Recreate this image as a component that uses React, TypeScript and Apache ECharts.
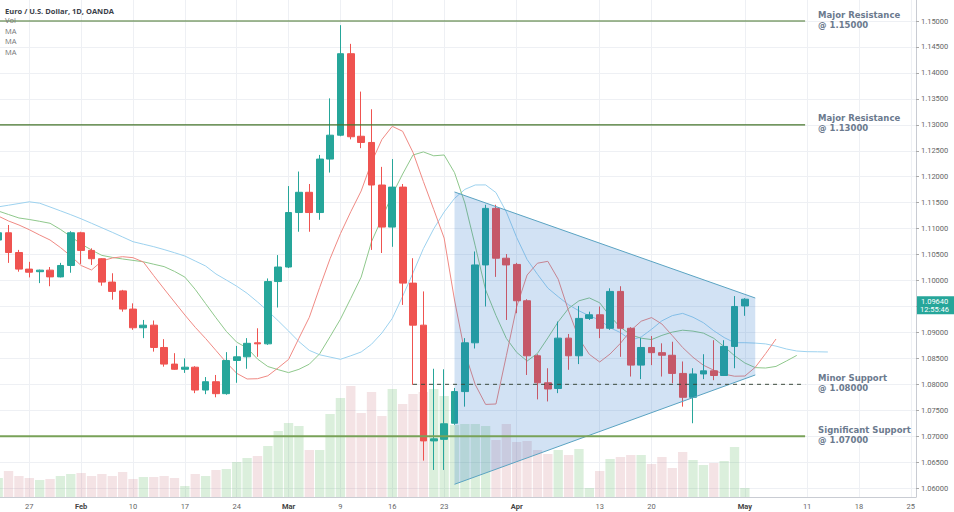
import React, { useEffect, useRef } from "react";
import * as echarts from "echarts";

// ---------- DATA ----------
const dates: string[] = [
  "2020-01-22","2020-01-23","2020-01-24","2020-01-27","2020-01-28","2020-01-29","2020-01-30","2020-01-31",
  "2020-02-03","2020-02-04","2020-02-05","2020-02-06","2020-02-07","2020-02-10","2020-02-11","2020-02-12","2020-02-13","2020-02-14",
  "2020-02-17","2020-02-18","2020-02-19","2020-02-20","2020-02-21","2020-02-24","2020-02-25","2020-02-26","2020-02-27","2020-02-28",
  "2020-03-02","2020-03-03","2020-03-04","2020-03-05","2020-03-06","2020-03-09","2020-03-10","2020-03-11","2020-03-12","2020-03-13",
  "2020-03-16","2020-03-17","2020-03-18","2020-03-19","2020-03-20","2020-03-23","2020-03-24","2020-03-25","2020-03-26","2020-03-27",
  "2020-03-30","2020-03-31","2020-04-01","2020-04-02","2020-04-03","2020-04-06","2020-04-07","2020-04-08","2020-04-09","2020-04-10",
  "2020-04-13","2020-04-14","2020-04-15","2020-04-16","2020-04-17","2020-04-20","2020-04-21","2020-04-22","2020-04-23","2020-04-24",
  "2020-04-27","2020-04-28","2020-04-29","2020-04-30","2020-05-01","2020-05-04","2020-05-05","2020-05-06","2020-05-07","2020-05-08",
  "2020-05-11","2020-05-12","2020-05-13","2020-05-14","2020-05-15","2020-05-18","2020-05-19","2020-05-20","2020-05-21","2020-05-22",
  "2020-05-25",
];

// [open, close, low, high]
const candles: number[][] = [
  [1.1078,1.1092,1.1070,1.1101],[1.1092,1.1054,1.1034,1.1107],[1.1054,1.1022,1.1017,1.1059],[1.1022,1.1016,1.1006,1.1036],
  [1.1017,1.1020,1.0995,1.1021],[1.1020,1.1007,1.0989,1.1026],[1.1007,1.1029,1.1006,1.1034],[1.1029,1.1092,1.1015,1.1095],
  [1.1092,1.1058,1.1032,1.1094],[1.1058,1.1042,1.1030,1.1062],[1.1042,1.0997,1.0990,1.1043],[1.0997,1.0979,1.0963,1.1014],
  [1.0980,1.0945,1.0940,1.0982],[1.0945,1.0909,1.0905,1.0956],[1.0909,1.0914,1.0889,1.0924],[1.0914,1.0871,1.0863,1.0923],
  [1.0871,1.0839,1.0834,1.0887],[1.0839,1.0829,1.0828,1.0860],[1.0829,1.0833,1.0822,1.0850],[1.0833,1.0789,1.0783,1.0835],
  [1.0789,1.0805,1.0781,1.0814],[1.0805,1.0782,1.0775,1.0818],[1.0782,1.0846,1.0780,1.0862],[1.0846,1.0853,1.0803,1.0874],
  [1.0853,1.0879,1.0830,1.0889],[1.0880,1.0878,1.0853,1.0908],[1.0878,1.0998,1.0876,1.1004],[1.0998,1.1026,1.0948,1.1049],
  [1.1026,1.1131,1.1024,1.1182],[1.1131,1.1170,1.1094,1.1210],[1.1170,1.1131,1.1094,1.1186],[1.1131,1.1234,1.1117,1.1242],
  [1.1234,1.1280,1.1208,1.1351],[1.1280,1.1437,1.1278,1.1492],[1.1437,1.1277,1.1272,1.1456],[1.1278,1.1266,1.1255,1.1364],
  [1.1266,1.1184,1.1059,1.1330],[1.1184,1.1103,1.1053,1.1219],[1.1103,1.1180,1.1065,1.1234],[1.1180,1.0995,1.0953,1.1186],
  [1.0995,1.0914,1.0799,1.1043],[1.0914,1.0691,1.0653,1.0979],[1.0691,1.0695,1.0635,1.0830],[1.0694,1.0724,1.0635,1.0829],
  [1.0725,1.0786,1.0722,1.0793],[1.0786,1.0880,1.0757,1.0889],[1.0880,1.1030,1.0869,1.1056],[1.1030,1.1139,1.0950,1.1146],
  [1.1139,1.1043,1.1007,1.1146],[1.1043,1.1030,1.0924,1.1051],[1.1031,1.0961,1.0937,1.1034],[1.0961,1.0855,1.0818,1.0964],
  [1.0855,1.0803,1.0771,1.0858],[1.0803,1.0791,1.0767,1.0831],[1.0792,1.0889,1.0783,1.0921],[1.0889,1.0855,1.0828,1.0897],
  [1.0855,1.0927,1.0839,1.0951],[1.0927,1.0934,1.0924,1.0940],[1.0934,1.0908,1.0889,1.0950],[1.0908,1.0979,1.0905,1.0985],
  [1.0979,1.0908,1.0853,1.0989],[1.0908,1.0837,1.0815,1.0910],[1.0837,1.0871,1.0810,1.0889],[1.0871,1.0861,1.0837,1.0893],
  [1.0861,1.0856,1.0815,1.0879],[1.0856,1.0821,1.0802,1.0882],[1.0821,1.0775,1.0757,1.0844],[1.0775,1.0820,1.0725,1.0831],
  [1.0820,1.0826,1.0810,1.0858],[1.0826,1.0817,1.0808,1.0885],[1.0817,1.0873,1.0816,1.0885],[1.0873,1.0950,1.0831,1.0970],
  [1.0951,1.0964,1.0932,1.0966],
];

const volumes: number[] = [
  19,26,21,19,17,18,21,23,
  24,21,23,21,25, 18,20,20,21,19, 11,23,21,27,28, 35,39,41,51,66,
  74,71,47,47,83, 99,111,84,105,81, 108,93,103,105,108, 101,72,73,73,71, 57,73,
  55,56,47, 43,47,42,48,9, 26,38,40,42,42, 33,40,29,45,37, 32,34,36,50,
  9,
];

const maRed: number[] = [
  1.11243,1.11147,1.11070,1.10979,1.10877,1.10781,1.10636,1.10472,1.10289,1.10203,
  1.10376,1.10434,1.10459,1.10440,1.10357,1.10093,1.09837,1.09586,1.09336,1.09099,
  1.08883,1.08652,1.08420,1.08212,1.08103,1.08108,1.08164,1.08318,1.08480,1.08889,
  1.09291,1.09866,1.10420,1.10902,1.11326,1.11725,1.12278,1.12717,1.12971,1.12875,
  1.12467,1.11908,1.11368,1.10819,1.09625,1.08609,1.07995,1.07613,1.07621,1.08551,
  1.09498,1.10106,1.10334,1.10370,1.10025,1.09413,1.08883,1.08578,1.08430,1.08584,
  1.08790,1.09037,1.09216,1.09286,1.09162,1.08939,1.08709,1.08521,1.08368,1.08272,
  1.08197,1.08156,1.08160,1.08328,1.08592,1.08873,
];

const maGreen: number[] = [
  1.11340,1.11272,1.11205,1.11176,1.11141,1.11103,1.10985,1.10848,1.10704,1.10588,
  1.10484,1.10446,1.10415,1.10388,1.10361,1.10314,1.10268,1.10176,1.10066,1.09829,
  1.09555,1.09282,1.09020,1.08812,1.08700,1.08488,1.08343,1.08282,1.08226,1.08289,
  1.08388,1.08588,1.08918,1.09255,1.09656,1.10066,1.10750,1.11197,1.11656,1.12052,
  1.12419,1.12478,1.12403,1.12419,1.12079,1.11492,1.10667,1.09819,1.09326,1.08885,
  1.08615,1.08449,1.08596,1.08894,1.09205,1.09463,1.09609,1.09665,1.09571,1.09311,
  1.09101,1.08952,1.08889,1.08862,1.08943,1.09006,1.09043,1.09025,1.08987,1.08887,
  1.08727,1.08551,1.08411,1.08322,1.08314,1.08345,1.08449,1.08557,
];

const maBlue: number[] = [
  1.11419,1.11451,1.11484,1.11517,1.11490,1.11417,1.11343,1.11268,1.11189,1.11103,
  1.11016,1.10929,1.10839,1.10748,1.10700,1.10652,1.10596,1.10536,1.10472,1.10376,
  1.10280,1.10126,1.10010,1.09891,1.09754,1.09588,1.09413,1.09224,1.09027,1.08823,
  1.08654,1.08569,1.08525,1.08482,1.08550,1.08623,1.08773,1.08989,1.09270,1.09696,
  1.10147,1.10615,1.10997,1.11320,1.11582,1.11756,1.11841,1.11842,1.11694,1.11320,
  1.10827,1.10405,1.10120,1.09854,1.09688,1.09532,1.09417,1.09320,1.09239,1.09091,
  1.08997,1.08854,1.08912,1.09060,1.09224,1.09324,1.09367,1.09293,1.09187,1.09033,
  1.08902,1.08802,1.08802,1.08794,1.08779,1.08736,1.08681,1.08642,1.08629,1.08627,1.08623,
];

const priceTicks: number[] = [
  1.06,1.065,1.07,1.075,1.08,1.085,1.09,1.095,1.10,1.105,1.11,1.115,1.12,1.125,1.13,1.135,1.14,1.145,1.15,
];
const priceLabelTicks: number[] = priceTicks.filter((v) => Math.abs(v - 1.095) > 1e-9);
const priceMin = 1.05829;
const priceMax = 1.15405;

const xLabels: Record<string, string> = {
  "2020-01-27": "27", "2020-02-03": "Feb", "2020-02-10": "10", "2020-02-17": "17", "2020-02-24": "24",
  "2020-03-02": "Mar", "2020-03-09": "9", "2020-03-16": "16", "2020-03-23": "23", "2020-04-01": "Apr",
  "2020-04-13": "13", "2020-04-20": "20", "2020-05-01": "May", "2020-05-11": "11", "2020-05-18": "18",
  "2020-05-25": "25",
};
const monthNames = ["Feb", "Mar", "Apr", "May"];

const levelPrices: number[] = [1.15, 1.13, 1.08, 1.07];
const levelNames: string[] = ["Major Resistance", "Major Resistance", "Minor Support", "Significant Support"];
const levelKinds: string[] = ["major", "major", "minor", "significant"];
const dashedStart = "2020-03-18";
const levelEnd = "2020-05-11";

const triDates: string[] = ["2020-03-24", "2020-05-04"];
const triUpper: number[] = [1.11706, 1.09663];
const triLower: number[] = [1.06074, 1.0818];

const lastTime = "12:55:46";
const legendTitle = "Euro / U.S. Dollar, 1D, OANDA";
const legendRows = ["Vol", "MA", "MA", "MA"];

// ---------- STYLE ----------
const UP = "#26a69a";
const DOWN = "#ef5350";
const VOL_UP = "rgba(76,175,80,0.2)";
const VOL_DOWN = "rgba(190,90,100,0.17)";
const GRID_C = "#eef0f4";
const AXIS_FONT = "Roboto, sans-serif";

const pad = (arr: number[]) => dates.map((_, k) => (k < arr.length ? arr[k] : null));

function buildOption(): any {
  const volData = volumes.map((v, k) => ({
    value: v,
    itemStyle: { color: candles[k][1] >= candles[k][0] ? VOL_UP : VOL_DOWN },
  }));

  const levelStyle: Record<string, any> = {
    major: { stroke: "#44752a", lineWidth: 1.2 },
    minor: { stroke: "#3c4a3c", lineWidth: 1, lineDash: [4, 4] },
    significant: { stroke: "#78a258", lineWidth: 2 },
  };

  return {
    animation: false,
    backgroundColor: "#ffffff",
    textStyle: { fontFamily: AXIS_FONT },
    grid: { left: -7, right: 38, top: 0, bottom: 15, containLabel: false, outerBoundsMode: "none" },
    xAxis: {
      type: "category",
      data: dates,
      boundaryGap: true,
      axisLine: { show: true, lineStyle: { color: "#c9ccd3" } },
      axisTick: { show: false },
      axisLabel: {
        interval: (_i: number, v: string) => v in xLabels,
        formatter: (v: string) => {
          const t = xLabels[v] || "";
          return monthNames.indexOf(t) >= 0 ? `{m|${t}}` : t;
        },
        fontSize: 7.5,
        color: "#666",
        margin: 5,
        hideOverlap: false,
        rich: { m: { fontSize: 7.5, fontWeight: "bold", color: "#444" } },
      },
      splitLine: {
        show: true,
        interval: (_i: number, v: string) => v in xLabels,
        alignWithLabel: true,
        lineStyle: { color: GRID_C, width: 1 },
      },
    },
    yAxis: [
      {
        type: "value",
        position: "right",
        min: priceMin,
        max: priceMax,
        axisLine: { show: true, lineStyle: { color: "#c9ccd3" } },
        axisTick: { show: true, length: 3, customValues: priceTicks, lineStyle: { color: "#aaa" } },
        axisLabel: {
          customValues: priceLabelTicks,
          formatter: (v: number) => v.toFixed(5),
          fontSize: 7.5,
          color: "#666",
          margin: 5,
          showMinLabel: true,
          showMaxLabel: true,
        },
        splitLine: { show: true, lineStyle: { color: GRID_C, width: 1 } },
      },
      { type: "value", min: 0, max: 497, show: false },
    ],
    graphic: [
      {
        type: "text", x: 5, y: 10.5, z: 100,
        style: { text: legendTitle, fill: "#3a3e48", font: 'bold 7.5px "Open Sans", sans-serif',
          textVerticalAlign: "middle", verticalAlign: "middle" },
      },
      ...legendRows.map((t, k) => ({
        type: "text", x: 5, y: 20 + k * 10.6, z: 100,
        style: { text: t, fill: "#777", font: '7.5px "Open Sans", sans-serif',
          textVerticalAlign: "middle", verticalAlign: "middle" },
      })),
    ],
    series: [
      {
        type: "bar",
        yAxisIndex: 1,
        data: volData,
        barCategoryGap: "10%",
        z: 1,
        silent: true,
      },
      {
        type: "line", data: pad(maBlue), showSymbol: false, symbol: "none", z: 2, silent: true,
        lineStyle: { color: "#9dd2ef", width: 1 },
      },
      {
        type: "line", data: pad(maGreen), showSymbol: false, symbol: "none", z: 2, silent: true,
        lineStyle: { color: "#8fc88c", width: 1 },
      },
      {
        type: "line", data: pad(maRed), showSymbol: false, symbol: "none", z: 2, silent: true,
        lineStyle: { color: "#f08a84", width: 1 },
      },
      {
        type: "candlestick",
        data: candles,
        barWidth: "70%",
        z: 3,
        silent: true,
        itemStyle: { color: UP, color0: DOWN, borderColor: UP, borderColor0: DOWN, borderWidth: 1 },
      },
      {
        type: "custom",
        z: 10,
        clip: false,
        silent: true,
        data: [[0, 1.1]],
        renderItem: (params: any, api: any) => {
          const cs = params.coordSys;
          const left = cs.x;
          const right = cs.x + cs.width;
          const kids: any[] = [];
          const a = api.coord([triDates[0], triUpper[0]]);
          const b = api.coord([triDates[1], triUpper[1]]);
          const c = api.coord([triDates[1], triLower[1]]);
          const d = api.coord([triDates[0], triLower[0]]);
          kids.push({ type: "polygon", shape: { points: [a, b, c, d] }, style: { fill: "rgba(30,110,200,0.2)" } });
          kids.push({ type: "line", shape: { x1: a[0], y1: a[1], x2: b[0], y2: b[1] },
            style: { stroke: "#5aa3c2", lineWidth: 1 } });
          kids.push({ type: "line", shape: { x1: d[0], y1: d[1], x2: c[0], y2: c[1] },
            style: { stroke: "#5aa3c2", lineWidth: 1 } });

          levelPrices.forEach((p, k) => {
            const kind = levelKinds[k];
            const end = api.coord([levelEnd, p]);
            const startX = kind === "minor" ? api.coord([dashedStart, p])[0] : Math.min(left, 0);
            kids.push({ type: "line", shape: { x1: startX, y1: end[1], x2: end[0] - 2, y2: end[1] },
              style: { ...levelStyle[kind], fill: null } });
            kids.push({
              type: "text", x: end[0] + 11, y: end[1] - 1.5,
              style: {
                text: `${levelNames[k]}\n@ ${p.toFixed(5)}`,
                fill: "#6b7a8e",
                font: 'bold 8.5px "DejaVu Sans", sans-serif',
                lineHeight: 10,
                textAlign: "left", align: "left",
                textVerticalAlign: "middle", verticalAlign: "middle",
              },
            });
          });

          const lastIdx = candles.length - 1;
          const lastClose = candles[lastIdx][1];
          const tp = api.coord([dates[lastIdx], lastClose]);
          kids.push({ type: "rect", shape: { x: right + 1, y: tp[1] - 3, width: 40, height: 18 },
            style: { fill: UP } });
          kids.push({ type: "text", x: right + 5, y: tp[1] + 1.8,
            style: { text: lastClose.toFixed(5), fill: "#fff", font: `7.5px ${AXIS_FONT}`,
              textVerticalAlign: "middle", verticalAlign: "middle" } });
          kids.push({ type: "text", x: right + 4, y: tp[1] + 10.5,
            style: { text: lastTime, fill: "#fff", font: `7.5px ${AXIS_FONT}`,
              textVerticalAlign: "middle", verticalAlign: "middle" } });
          return { type: "group", children: kids };
        },
      },
    ],
  };
}

export default function App() {
  const ref = useRef<HTMLDivElement>(null);
  useEffect(() => {
    if (!ref.current) return;
    const chart = echarts.init(ref.current, null, { renderer: "svg" });
    chart.setOption(buildOption());
    return () => chart.dispose();
  }, []);
  return (
    <div
      ref={ref}
      style={{ position: "fixed", left: 0, top: 0, width: 954, height: 512, background: "#fff" }}
    />
  );
}
